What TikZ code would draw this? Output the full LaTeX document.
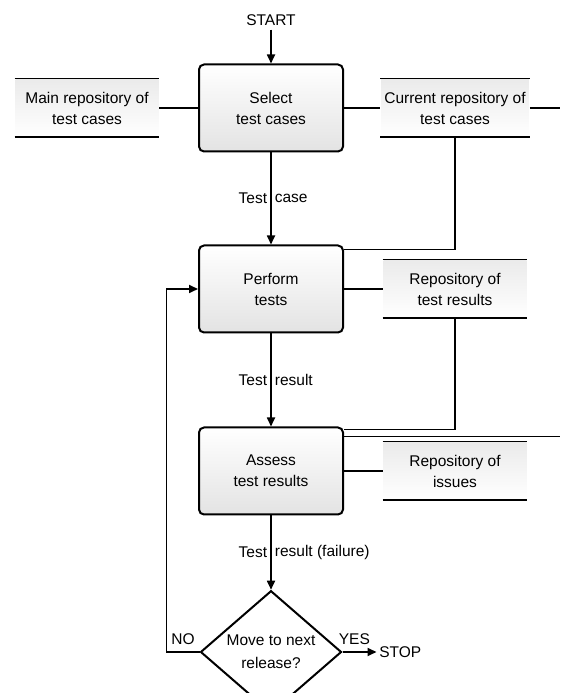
\documentclass[tikz,border=0pt]{standalone}
\usepackage{fontspec}
\setmainfont{Liberation Sans}
\usetikzlibrary{arrows.meta,positioning,shapes.geometric}

\begin{document}
\begin{tikzpicture}[x=1pt,y=1pt,node distance=181pt and 184pt,on grid,
  >={Triangle[length=9pt,width=8pt]},line width=1.7pt,
  every node/.style={font=\fontsize{15.5}{21}\selectfont,align=center},
  process/.style={draw,line width=2pt,rounded corners=5pt,minimum width=144pt,
    minimum height=87pt,top color=white,bottom color=gray!22},
  repo/.style={minimum width=143pt,minimum height=57pt,top color=gray!16,bottom color=white},
  decision/.style={draw,diamond,line width=2pt,minimum width=141pt,minimum height=88pt,inner sep=0pt},
  flowlabel/.style={inner sep=3pt}]
 \useasboundingbox (0,0) rectangle (560,693);
 \coordinate (rim) at (560,0);

 \node[process] (sel) at (271,585) {Select\\test cases};
 \node (start) [above=88pt of sel] {START};
 \node[repo] (main) [left=of sel] {Main repository of\\test cases};
 \node[repo] (cur) [right=of sel] {Current repository of\\test cases};
 \node[process] (perf) [below=of sel] {Perform\\tests};
 \node[repo] (res) [right=of perf] {Repository of\\test results};
 \node[process] (ass) [below=182pt of perf] {Assess\\test results};
 \node[repo] (iss) [right=of ass] {Repository of\\issues};
 \node[decision] (dec) [below=of ass] {Move to next\\[2pt]release?};
 \node[anchor=west,inner sep=2pt] (stop) at ([xshift=34pt]dec.east) {STOP};
 \coordinate (back) at ([xshift=-33pt]dec.west);

 \foreach \r in {main,cur,res,iss}
  \draw (\r.north west) -- (\r.north east) (\r.south west) -- (\r.south east);

 \draw[->] (start) -- (sel);
 \draw (main) -- (sel) -- (cur) -- (cur.east -| rim);
 \draw (cur.south) |- ([yshift=-5pt]perf.north east);
 \draw (perf) -- (res);
 \draw (res.south) |- ([yshift=-3pt]ass.north east);
 \draw ([yshift=-10pt]ass.north east) -- ([yshift=-10pt]ass.north east -| rim);
 \draw (ass) -- (iss);
 \draw[->] (sel) -- node[flowlabel,left] {Test} node[flowlabel,right] {case} (perf);
 \draw[->] (perf) -- node[flowlabel,left] {Test} node[flowlabel,right] {result} (ass);
 \draw[->] (ass) -- node[flowlabel,left] {Test} node[flowlabel,right] {result (failure)} (dec);
 \draw[->] (dec) -- node[pos=0.35,above,yshift=3pt] {YES} (stop);
 \draw[->] (dec.west) -- node[above,yshift=3pt] {NO} (back) |- (perf);
\end{tikzpicture}
\end{document}
